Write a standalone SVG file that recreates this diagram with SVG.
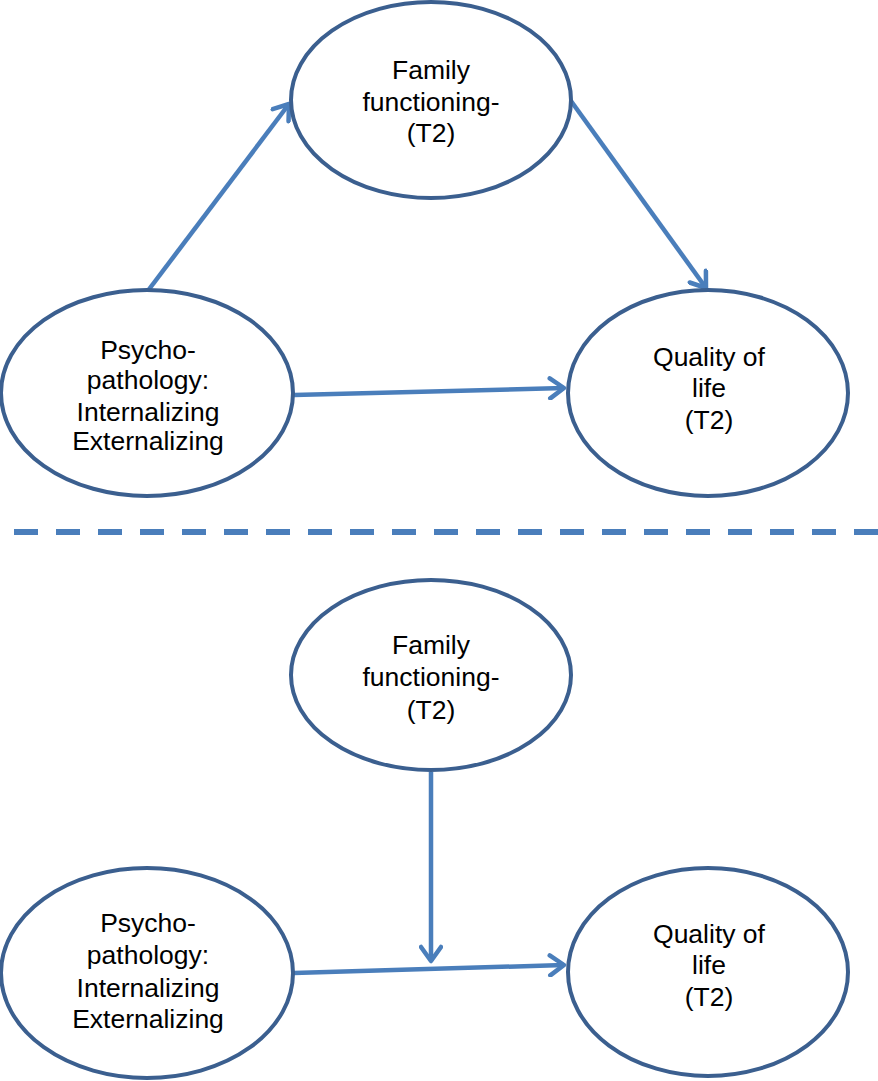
<svg xmlns="http://www.w3.org/2000/svg" width="878" height="1081" viewBox="0 0 878 1081">
<defs>
<style>
.node{fill:#fff;stroke:#3b5f8f;stroke-width:4}
.lbl{font-family:"Liberation Sans",Arial,sans-serif;font-size:26.5px;fill:#000;text-anchor:middle}
.edge{stroke:#4a7ebb;stroke-width:4.5;fill:none}
</style>
<marker id="ah2" viewBox="0 0 24 24" refX="21" refY="12" markerWidth="24" markerHeight="24" markerUnits="userSpaceOnUse" orient="auto"><path d="M7,2 L21,12 L7,22" fill="none" stroke="#4a7ebb" stroke-width="4.5" stroke-linecap="round" stroke-linejoin="round"/></marker>
</defs>
<g id="connectors">
<line class="edge" x1="147" y1="292" x2="289" y2="104" marker-end="url(#ah2)"/>
<line class="edge" x1="571" y1="101" x2="706" y2="288" marker-end="url(#ah2)"/>
<line class="edge" x1="294" y1="395" x2="564" y2="388" marker-end="url(#ah2)"/>
<line class="edge" x1="431" y1="772" x2="431" y2="961" marker-end="url(#ah2)"/>
<line class="edge" x1="294" y1="973" x2="564" y2="965" marker-end="url(#ah2)"/>
<line x1="14" y1="532" x2="878" y2="532" stroke="#4a7ebb" stroke-width="6" stroke-dasharray="24 18"/>
</g>
<g id="family1"><ellipse class="node" cx="431" cy="100" rx="140" ry="98"/>
<text class="lbl" x="431" y="79">Family</text><text class="lbl" x="431" y="111">functioning-</text><text class="lbl" x="431" y="142">(T2)</text></g>
<g id="psycho1"><ellipse class="node" cx="147" cy="393" rx="146" ry="103"/>
<text class="lbl" x="148" y="359">Psycho-</text><text class="lbl" x="148" y="389">pathology:</text><text class="lbl" x="148" y="421">Internalizing</text><text class="lbl" x="148" y="450">Externalizing</text></g>
<g id="quality1"><ellipse class="node" cx="708" cy="393" rx="140" ry="103"/>
<text class="lbl" x="709" y="366">Quality of</text><text class="lbl" x="709" y="397">life</text><text class="lbl" x="709" y="429">(T2)</text></g>
<g id="family2"><ellipse class="node" cx="431" cy="675" rx="140" ry="95"/>
<text class="lbl" x="431" y="654">Family</text><text class="lbl" x="431" y="686">functioning-</text><text class="lbl" x="431" y="719">(T2)</text></g>
<g id="psycho2"><ellipse class="node" cx="147" cy="973" rx="146" ry="105"/>
<text class="lbl" x="148" y="932">Psycho-</text><text class="lbl" x="148" y="964">pathology:</text><text class="lbl" x="148" y="997">Internalizing</text><text class="lbl" x="148" y="1028">Externalizing</text></g>
<g id="quality2"><ellipse class="node" cx="708" cy="972" rx="140" ry="104"/>
<text class="lbl" x="709" y="943">Quality of</text><text class="lbl" x="709" y="974">life</text><text class="lbl" x="709" y="1006">(T2)</text></g>
</svg>
